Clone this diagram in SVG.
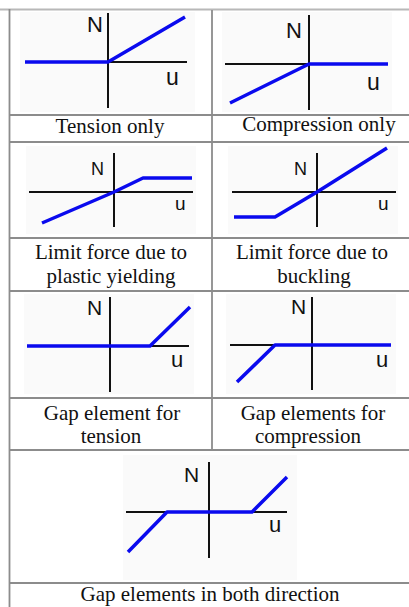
<svg xmlns="http://www.w3.org/2000/svg" width="409" height="607" viewBox="0 0 409 607">
<style>
.bg{fill:#fafafa}
.ax{stroke:#111;stroke-width:2;fill:none}
.bl{stroke:#0a0aee;stroke-width:3.5;fill:none;stroke-linejoin:round}
.lbl{font-family:"Liberation Sans",Arial,sans-serif;fill:#111}
.cap{font-family:"Liberation Serif","Times New Roman",serif;font-size:21px;fill:#111;text-anchor:middle}
.grid{stroke:#8c8c8c;stroke-width:1.8;fill:none}
</style>
<rect width="409" height="607" fill="#fff"/>
<g id="grid">
<line x1="0" y1="9.5" x2="409" y2="9.5" stroke="#b8b8b8" stroke-width="2"/>
<line class="grid" x1="9.5" y1="9" x2="9.5" y2="607"/>
<line class="grid" x1="212" y1="10" x2="212" y2="450"/>
<line class="grid" x1="10" y1="115" x2="409" y2="115"/>
<line class="grid" x1="10" y1="142" x2="409" y2="142"/>
<line class="grid" x1="10" y1="238" x2="409" y2="238"/>
<line class="grid" x1="10" y1="291" x2="409" y2="291"/>
<line class="grid" x1="10" y1="398" x2="409" y2="398"/>
<line class="grid" x1="10" y1="450" x2="409" y2="450"/>
<line class="grid" x1="10" y1="583" x2="409" y2="583"/>
</g>
<g id="tension-only">
<rect class="bg" x="20" y="12" width="175" height="100"/>
<line class="ax" x1="108" y1="13" x2="108" y2="108"/>
<line class="ax" x1="108" y1="62" x2="187" y2="62"/>
<polyline class="bl" points="25,62 108,62 185,17"/>
<text class="lbl" x="87" y="32" font-size="22">N</text>
<text class="lbl" x="166" y="85" font-size="23">u</text>
<text class="cap" x="110" y="133">Tension only</text>
</g>
<g id="compression-only">
<rect class="bg" x="222" y="12" width="170" height="100"/>
<line class="ax" x1="309" y1="15" x2="309" y2="110"/>
<line class="ax" x1="225" y1="64" x2="309" y2="64"/>
<polyline class="bl" points="230,103 309,64 388,64"/>
<text class="lbl" x="286" y="38" font-size="22">N</text>
<text class="lbl" x="367" y="90" font-size="23">u</text>
<text class="cap" x="319" y="131">Compression only</text>
</g>
<g id="limit-yielding">
<rect class="bg" x="26" y="146" width="170" height="88"/>
<line class="ax" x1="114" y1="153" x2="114" y2="227"/>
<line class="ax" x1="29" y1="192" x2="193" y2="192"/>
<polyline class="bl" points="42,223 114,192 143,178 192,178"/>
<text class="lbl" x="91" y="175" font-size="18">N</text>
<text class="lbl" x="175" y="210" font-size="19">u</text>
<text class="cap" x="111" y="259">Limit force due to</text>
<text class="cap" x="111" y="283">plastic yielding</text>
</g>
<g id="limit-buckling">
<rect class="bg" x="228" y="146" width="170" height="88"/>
<line class="ax" x1="317" y1="153" x2="317" y2="227"/>
<line class="ax" x1="232" y1="192" x2="396" y2="192"/>
<polyline class="bl" points="234,217 275,217 317,192 387,148"/>
<text class="lbl" x="294" y="175" font-size="18">N</text>
<text class="lbl" x="378" y="210" font-size="19">u</text>
<text class="cap" x="312" y="259">Limit force due to</text>
<text class="cap" x="314" y="283">buckling</text>
</g>
<g id="gap-tension">
<rect class="bg" x="24" y="294" width="170" height="100"/>
<line class="ax" x1="110" y1="297" x2="110" y2="392"/>
<line class="ax" x1="150" y1="346" x2="189" y2="346"/>
<polyline class="bl" points="27,346 150,346 190,307"/>
<text class="lbl" x="87" y="315" font-size="21">N</text>
<text class="lbl" x="171" y="367" font-size="22">u</text>
<text class="cap" x="112" y="420">Gap element for</text>
<text class="cap" x="111" y="443">tension</text>
</g>
<g id="gap-compression">
<rect class="bg" x="226" y="294" width="170" height="100"/>
<line class="ax" x1="312" y1="297" x2="312" y2="390"/>
<line class="ax" x1="230" y1="345" x2="275" y2="345"/>
<polyline class="bl" points="237,382 275,345 391,345"/>
<text class="lbl" x="291" y="314" font-size="21">N</text>
<text class="lbl" x="376" y="367" font-size="22">u</text>
<text class="cap" x="313" y="420">Gap elements for</text>
<text class="cap" x="308" y="443">compression</text>
</g>
<g id="gap-both">
<rect class="bg" x="123" y="455" width="174" height="125"/>
<line class="ax" x1="209" y1="462" x2="209" y2="558"/>
<line class="ax" x1="126" y1="512" x2="287" y2="512"/>
<polyline class="bl" points="128,552 167,512 252,512 287,477"/>
<text class="lbl" x="184" y="482" font-size="21">N</text>
<text class="lbl" x="269" y="532" font-size="22">u</text>
<text class="cap" x="210" y="601">Gap elements in both direction</text>
</g>
</svg>
